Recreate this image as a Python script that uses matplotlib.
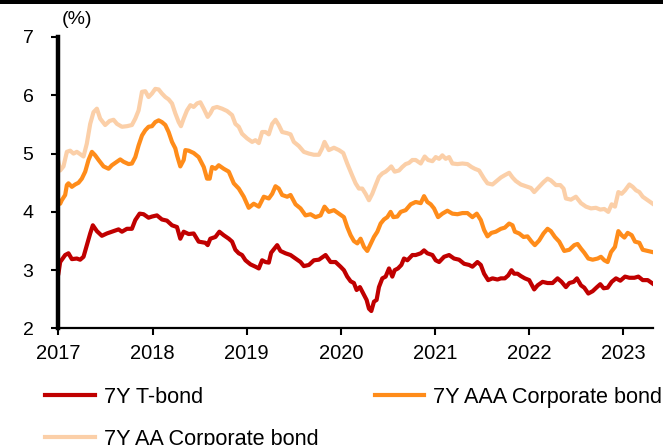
import matplotlib
matplotlib.use('Agg')
import matplotlib.pyplot as plt
from matplotlib.patches import Rectangle
import numpy as np

plt.rcParams['font.family'] = ['Liberation Sans', 'DejaVu Sans']

# years elapsed since 2017-01-01, and yields in %
tb_t = [0.000, 0.018, 0.071, 0.106, 0.142, 0.195, 0.230, 0.266, 0.301, 0.337, 0.365, 0.408, 0.461, 0.514,
        0.585, 0.638, 0.674, 0.727, 0.780, 0.816, 0.862, 0.904, 0.957, 0.993, 1.046, 1.099, 1.152, 1.206,
        1.259, 1.294, 1.330, 1.383, 1.436, 1.489, 1.560, 1.585, 1.613, 1.667, 1.709, 1.755, 1.809, 1.844,
        1.879, 1.915, 1.950, 1.986, 2.039, 2.092, 2.128, 2.163, 2.199, 2.234, 2.259, 2.294, 2.323, 2.358,
        2.411, 2.465, 2.518, 2.571, 2.606, 2.660, 2.713, 2.766, 2.837, 2.890, 2.943, 2.996, 3.032, 3.067,
        3.103, 3.138, 3.167, 3.202, 3.238, 3.273, 3.298, 3.323, 3.351, 3.379, 3.404, 3.440, 3.475, 3.511,
        3.546, 3.571, 3.606, 3.642, 3.670, 3.706, 3.759, 3.794, 3.848, 3.883, 3.918, 3.972, 4.007, 4.043,
        4.096, 4.149, 4.202, 4.255, 4.309, 4.362, 4.397, 4.450, 4.486, 4.521, 4.564, 4.610, 4.663, 4.699,
        4.741, 4.777, 4.812, 4.840, 4.876, 4.911, 4.954, 5.000, 5.053, 5.089, 5.142, 5.195, 5.248, 5.301,
        5.344, 5.390, 5.426, 5.472, 5.507, 5.550, 5.585, 5.628, 5.674, 5.720, 5.755, 5.791, 5.833, 5.876,
        5.922, 5.968, 6.018, 6.064, 6.117, 6.160, 6.206, 6.259, 6.312]
tb_y = [2.95, 3.14, 3.26, 3.29, 3.19, 3.20, 3.18, 3.23, 3.43, 3.63, 3.77, 3.67, 3.59, 3.63,
        3.67, 3.70, 3.66, 3.71, 3.71, 3.86, 3.97, 3.96, 3.90, 3.92, 3.94, 3.87, 3.85, 3.77,
        3.74, 3.54, 3.66, 3.62, 3.63, 3.49, 3.47, 3.43, 3.54, 3.57, 3.66, 3.60, 3.54, 3.49,
        3.35, 3.29, 3.26, 3.17, 3.10, 3.06, 3.03, 3.17, 3.14, 3.13, 3.30, 3.37, 3.43, 3.33,
        3.29, 3.26, 3.20, 3.14, 3.07, 3.09, 3.17, 3.18, 3.26, 3.14, 3.14, 3.06, 3.00, 2.89,
        2.81, 2.78, 2.66, 2.71, 2.60, 2.49, 2.34, 2.30, 2.46, 2.49, 2.71, 2.86, 2.89, 3.03,
        2.89, 3.00, 3.03, 3.09, 3.20, 3.17, 3.26, 3.26, 3.29, 3.34, 3.29, 3.26, 3.17, 3.14,
        3.23, 3.26, 3.20, 3.18, 3.11, 3.09, 3.06, 3.14, 3.09, 2.94, 2.83, 2.86, 2.84, 2.86,
        2.86, 2.91, 3.00, 2.94, 2.94, 2.90, 2.86, 2.83, 2.67, 2.74, 2.80, 2.78, 2.78, 2.86,
        2.80, 2.71, 2.78, 2.80, 2.86, 2.74, 2.70, 2.60, 2.64, 2.71, 2.76, 2.69, 2.70, 2.80,
        2.86, 2.82, 2.89, 2.87, 2.87, 2.89, 2.83, 2.83, 2.77]

aaa_t = [0.000, 0.018, 0.035, 0.071, 0.089, 0.106, 0.142, 0.177, 0.213, 0.248, 0.284, 0.319, 0.355, 0.390,
         0.426, 0.479, 0.532, 0.567, 0.621, 0.656, 0.691, 0.745, 0.780, 0.816, 0.851, 0.887, 0.922, 0.957,
         0.993, 1.028, 1.064, 1.099, 1.135, 1.170, 1.206, 1.241, 1.259, 1.294, 1.330, 1.348, 1.383, 1.436,
         1.489, 1.543, 1.578, 1.606, 1.631, 1.667, 1.702, 1.755, 1.809, 1.862, 1.915, 1.968, 2.021, 2.074,
         2.128, 2.181, 2.234, 2.270, 2.305, 2.340, 2.376, 2.429, 2.465, 2.518, 2.571, 2.624, 2.677, 2.730,
         2.784, 2.826, 2.872, 2.926, 2.979, 3.032, 3.067, 3.103, 3.138, 3.174, 3.209, 3.245, 3.280, 3.316,
         3.351, 3.387, 3.422, 3.457, 3.493, 3.528, 3.557, 3.599, 3.635, 3.688, 3.741, 3.794, 3.848, 3.883,
         3.918, 3.954, 3.989, 4.032, 4.078, 4.131, 4.184, 4.238, 4.291, 4.344, 4.397, 4.443, 4.486, 4.521,
         4.557, 4.599, 4.645, 4.699, 4.741, 4.787, 4.823, 4.848, 4.894, 4.940, 4.982, 5.025, 5.060, 5.106,
         5.152, 5.195, 5.230, 5.273, 5.319, 5.372, 5.426, 5.479, 5.514, 5.550, 5.585, 5.628, 5.674, 5.727,
         5.762, 5.798, 5.833, 5.869, 5.911, 5.947, 5.982, 6.011, 6.046, 6.089, 6.124, 6.170, 6.206, 6.259,
         6.312]
aaa_y = [4.20, 4.14, 4.20, 4.29, 4.46, 4.49, 4.43, 4.47, 4.50, 4.57, 4.69, 4.89, 5.03, 4.97,
         4.89, 4.78, 4.74, 4.80, 4.86, 4.90, 4.86, 4.82, 4.83, 4.94, 5.14, 5.31, 5.40, 5.46,
         5.47, 5.54, 5.57, 5.54, 5.49, 5.37, 5.20, 5.09, 4.97, 4.78, 4.89, 5.06, 5.05, 5.01,
         4.94, 4.77, 4.57, 4.57, 4.77, 4.74, 4.80, 4.74, 4.69, 4.49, 4.40, 4.26, 4.07, 4.14,
         4.09, 4.26, 4.23, 4.31, 4.44, 4.40, 4.29, 4.26, 4.29, 4.13, 4.06, 3.94, 3.96, 3.91,
         3.94, 4.09, 4.00, 4.03, 3.97, 3.91, 3.74, 3.60, 3.50, 3.46, 3.54, 3.40, 3.33, 3.45,
         3.57, 3.66, 3.80, 3.87, 3.91, 4.00, 3.91, 3.92, 4.00, 4.03, 4.13, 4.17, 4.15, 4.27,
         4.17, 4.13, 4.06, 3.91, 3.97, 4.02, 3.97, 3.96, 3.98, 3.98, 3.91, 3.97, 3.86, 3.69,
         3.58, 3.64, 3.66, 3.71, 3.73, 3.80, 3.77, 3.66, 3.63, 3.57, 3.58, 3.49, 3.43, 3.51,
         3.63, 3.71, 3.67, 3.57, 3.49, 3.33, 3.35, 3.43, 3.45, 3.37, 3.30, 3.20, 3.18, 3.20,
         3.23, 3.17, 3.14, 3.31, 3.40, 3.67, 3.60, 3.56, 3.64, 3.60, 3.49, 3.47, 3.35, 3.33,
         3.31]

aa_t = [0.000, 0.018, 0.053, 0.089, 0.124, 0.160, 0.195, 0.230, 0.266, 0.301, 0.337, 0.372, 0.408, 0.443,
        0.496, 0.543, 0.585, 0.621, 0.674, 0.727, 0.780, 0.816, 0.851, 0.887, 0.922, 0.957, 0.993, 1.028,
        1.064, 1.099, 1.135, 1.170, 1.206, 1.241, 1.277, 1.301, 1.330, 1.365, 1.401, 1.436, 1.472, 1.507,
        1.543, 1.585, 1.613, 1.642, 1.684, 1.738, 1.791, 1.844, 1.879, 1.915, 1.950, 2.004, 2.057, 2.092,
        2.128, 2.163, 2.199, 2.234, 2.270, 2.305, 2.340, 2.376, 2.429, 2.465, 2.500, 2.553, 2.606, 2.660,
        2.713, 2.766, 2.801, 2.826, 2.872, 2.926, 2.979, 3.025, 3.067, 3.121, 3.156, 3.191, 3.227, 3.262,
        3.298, 3.333, 3.369, 3.404, 3.440, 3.475, 3.511, 3.535, 3.571, 3.617, 3.652, 3.688, 3.723, 3.759,
        3.794, 3.848, 3.890, 3.926, 3.972, 4.007, 4.043, 4.078, 4.113, 4.149, 4.184, 4.238, 4.291, 4.344,
        4.387, 4.422, 4.468, 4.521, 4.557, 4.610, 4.663, 4.699, 4.741, 4.787, 4.823, 4.858, 4.911, 4.965,
        5.018, 5.053, 5.106, 5.152, 5.195, 5.230, 5.284, 5.330, 5.365, 5.390, 5.443, 5.496, 5.550, 5.603,
        5.656, 5.709, 5.755, 5.798, 5.840, 5.876, 5.911, 5.947, 5.982, 6.018, 6.064, 6.099, 6.135, 6.170,
        6.206, 6.259, 6.312]
aa_y = [4.85, 4.71, 4.78, 5.03, 5.05, 5.00, 5.03, 4.99, 4.95, 5.17, 5.51, 5.71, 5.77, 5.60,
        5.49, 5.56, 5.58, 5.51, 5.46, 5.47, 5.49, 5.60, 5.74, 6.06, 6.07, 5.97, 6.03, 6.11,
        6.10, 6.03, 5.97, 5.93, 5.86, 5.69, 5.54, 5.47, 5.60, 5.74, 5.83, 5.80, 5.86, 5.88,
        5.77, 5.63, 5.69, 5.78, 5.80, 5.77, 5.73, 5.66, 5.51, 5.46, 5.34, 5.26, 5.20, 5.23,
        5.18, 5.37, 5.37, 5.33, 5.51, 5.58, 5.49, 5.37, 5.35, 5.33, 5.20, 5.13, 5.03, 5.00,
        4.98, 4.98, 5.09, 5.20, 5.06, 5.10, 5.06, 5.01, 4.83, 4.62, 4.49, 4.40, 4.40, 4.31,
        4.20, 4.31, 4.46, 4.60, 4.66, 4.69, 4.74, 4.78, 4.69, 4.71, 4.77, 4.82, 4.84, 4.89,
        4.89, 4.83, 4.95, 4.89, 4.87, 4.94, 4.91, 4.97, 4.91, 4.94, 4.83, 4.82, 4.83, 4.82,
        4.77, 4.74, 4.71, 4.57, 4.49, 4.47, 4.54, 4.59, 4.63, 4.67, 4.59, 4.53, 4.47, 4.44,
        4.41, 4.34, 4.43, 4.51, 4.57, 4.54, 4.46, 4.46, 4.40, 4.23, 4.21, 4.26, 4.15, 4.09,
        4.06, 4.07, 4.04, 4.05, 4.00, 4.13, 4.09, 4.34, 4.31, 4.37, 4.47, 4.43, 4.37, 4.34,
        4.26, 4.20, 4.14]

year_ticks = [2017, 2018, 2019, 2020, 2021, 2022, 2023]
y_ticks = [2, 3, 4, 5, 6, 7]

fig = plt.figure(figsize=(6.63, 4.45), dpi=100)
ax = fig.add_axes([0.0882, 0.2618, 0.896, 0.6551])

base = 2017
l_tb, = ax.plot(base + np.array(tb_t), tb_y, color='#C00000', lw=3.0, solid_joinstyle='round')
l_aaa, = ax.plot(base + np.array(aaa_t), aaa_y, color='#FF8C1A', lw=3.0, solid_joinstyle='round')
l_aa, = ax.plot(base + np.array(aa_t), aa_y, color='#FBCFA8', lw=3.0, solid_joinstyle='round')

ax.set_xlim(2017, 2023.31)
ax.set_ylim(2, 7)
ax.set_xticks(year_ticks)
ax.set_xticklabels([str(y) for y in year_ticks])
ax.set_yticks(y_ticks)

for s in ['top', 'right']:
    ax.spines[s].set_visible(False)
ax.spines['left'].set_linewidth(3.2)
ax.spines['bottom'].set_linewidth(1.6)
ax.tick_params(axis='y', direction='out', length=5, width=1.5, pad=13, labelsize=14)
ax.tick_params(axis='x', direction='out', length=5, width=1.5, pad=6, labelsize=14.5)

ax.text(0.005, 1.03, '(%)', transform=ax.transAxes, fontsize=14, ha='left', va='bottom')

# black rule across the top edge
fig.add_artist(Rectangle((0, 1 - 4/445), 1, 4/445, transform=fig.transFigure,
                         facecolor='black', edgecolor='none'))

fig.legend([l_tb, l_aa, l_aaa], ['7Y T-bond', '7Y AA Corporate bond', '7Y AAA Corporate bond'],
           loc='upper left', bbox_to_anchor=(0.068, 1 - 387/445), ncol=2, frameon=False,
           fontsize=15.6, handlelength=2.3, handletextpad=0.4, columnspacing=2.6,
           labelspacing=0.95, borderpad=0, borderaxespad=0)

fig.savefig('out.png', dpi=100)
